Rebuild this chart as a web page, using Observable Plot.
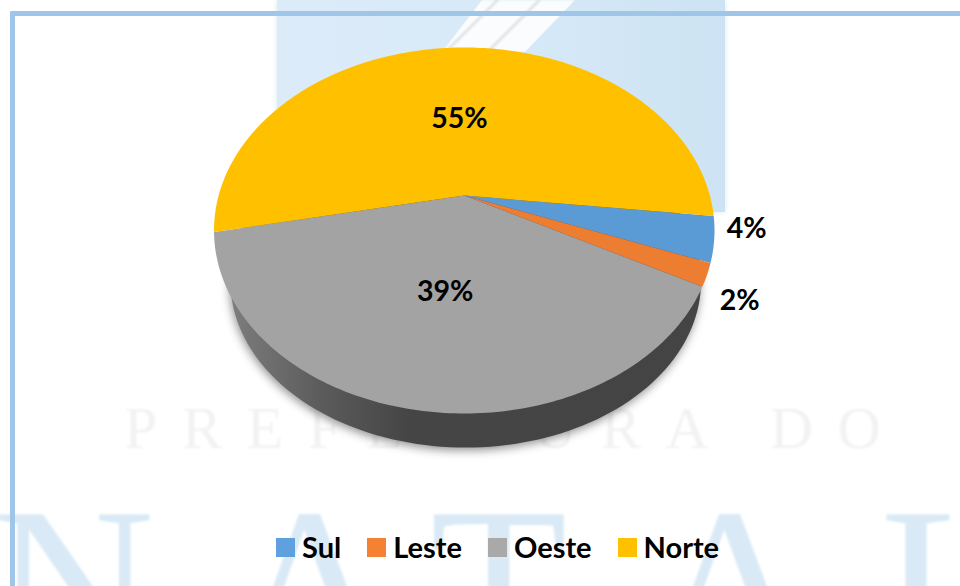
<!DOCTYPE html>
<html><head><meta charset="utf-8">
<script src="https://cdn.jsdelivr.net/npm/d3@7"></script>
<script src="https://cdn.jsdelivr.net/npm/@observablehq/plot@0.6"></script>
<style>
html,body{margin:0;padding:0;background:#fff;width:960px;height:586px;overflow:hidden;font-family:Lato,sans-serif}
#bg{position:absolute;left:0;top:0;width:960px;height:586px;overflow:hidden}
#bg div,#bg span{position:absolute;display:block}
.big{font-family:"Liberation Serif",serif;font-size:225px;line-height:225px;color:#d9eaf6;top:474px;filter:blur(1px)}
#chart{position:absolute;left:0;top:0}
#legend{position:absolute;left:276px;top:529px;display:flex;align-items:center;height:34px;font-weight:700;font-size:29px;color:#000}
#legend i{display:block;width:19px;height:19px;margin-right:7px;margin-top:2px}
#legend span{margin-right:26px;white-space:nowrap}
</style></head><body>
<div id="bg">
  <div style="left:277px;top:0;width:448px;height:212px;background:linear-gradient(90deg,#dcebf8,#d8eaf8 45%,#cde3f3);box-shadow:0 0 6px #dbe9f2"></div>
  <div style="left:430px;top:0;width:160px;height:52px;clip-path:polygon(12px 52px,52px 0,145px 0,95px 52px);filter:blur(.8px);background:repeating-linear-gradient(135deg,#fbfcfd 0 16px,#e2e3e4 16px 19px,#fbfcfd 19px 30px)"></div>
  <span style="left:124px;top:394px;font-family:'Liberation Serif',serif;font-size:60px;letter-spacing:24.6px;color:#f2f2f2;white-space:nowrap;filter:blur(1px)">PREFEITURA DO</span>
  <span class="big" style="left:-8px">N</span>
  <span class="big" style="left:230px">A</span>
  <span class="big" style="left:430px">T</span>
  <span class="big" style="left:650px">A</span>
  <span class="big" style="left:880px">L</span>
  <div style="left:9.5px;top:11px;width:960px;height:600px;border:solid #9fc5e8;border-width:5.5px 0 0 5.5px;border-top-left-radius:2px"></div>
</div>
<div id="chart"></div>
<div id="legend"></div>
<script>
const regions = ["Sul", "Leste", "Oeste", "Norte"];
const shares = [4, 2, 39, 55];
const sliceColors = ["#5b9bd5", "#ed7d31", "#a3a3a3", "#ffc000"];
const legendColors = ["#5fa1de", "#f58233", "#a9a9a9", "#ffc000"];

// tilted-disc geometry: a unit circle seen in perspective
const k = 0.191, s = Math.sqrt(1 - k * k), startDeg = -6.5;
const project = (r, deg) => {
  const u = r * Math.cos(deg * Math.PI / 180), v = r * Math.sin(deg * Math.PI / 180), w = 1 + k * v;
  return {x: s * u / w, y: (v + k) / w};
};
// slices run clockwise from the start angle
let cursor = startDeg;
const slices = regions.map((name, i) => {
  const a0 = cursor, a1 = cursor - shares[i] * 3.6;
  cursor = a1;
  return {name, share: shares[i], a0, a1, mid: (a0 + a1) / 2};
});
const facePoints = slices.flatMap(d => {
  const n = Math.ceil(Math.abs(d.a0 - d.a1));
  return [{...project(0, 0), name: d.name},
    ...d3.range(n + 1).map(j => ({...project(1, d.a0 + (d.a1 - d.a0) * j / n), name: d.name}))];
});
const wallPoints = d3.range(0, 361, 2).map(t => ({
  x: 0.006 + 0.94 * Math.cos(t * Math.PI / 180),
  y: -0.279 + 0.907 * Math.sin(t * Math.PI / 180)
}));
const label = (d, r) => ({...project(r, d.mid), text: d.share + "%", name: d.name});
const inside = slices.filter(d => d.share > 10).map(d => label(d, 0.49));
const outerA = slices.filter(d => d.name === "Sul").map(d => label(d, 1.127));
const outerB = slices.filter(d => d.name === "Leste").map(d => label(d, 1.145));

const defs = () => {
  const g = d3.create("svg:defs");
  const lg = g.append("linearGradient").attr("id", "wall");
  [[0, "#7d7d7d"], [0.2, "#5a5a5a"], [0.38, "#454545"], [1, "#444"]].forEach(([o, c]) =>
    lg.append("stop").attr("offset", o).attr("stop-color", c));
  return g.node();
};
const textOpts = {x: "x", y: "y", text: "text", fontFamily: "Lato", fontWeight: 700, fontSize: 28.5, fill: "#000"};

const chart = Plot.plot({
  width: 960, height: 525,
  margin: 0,
  style: {background: "transparent"},
  x: {domain: [-1, 1], range: [213.5, 714], axis: null},
  y: {domain: [-1, 1], range: [413, 47], axis: null},
  color: {domain: regions, range: sliceColors},
  marks: [
    defs,
    Plot.line(wallPoints, {x: "x", y: "y", fill: "url(#wall)", stroke: "none",
      imageFilter: "drop-shadow(-1px 3px 5px rgba(0,0,0,.42))"}),
    Plot.line(facePoints, {x: "x", y: "y", z: "name", fill: "name", stroke: "none"}),
    Plot.text(inside, {...textOpts, dy: 2}),
    Plot.text(outerA, {...textOpts, dy: -16, dx: -1}),
    Plot.text(outerB, {...textOpts, dy: 13, dx: -6})
  ]
});
document.getElementById("chart").append(chart);
const legend = d3.select("#legend");
regions.forEach((name, i) => {
  legend.append("i").style("background", legendColors[i]);
  legend.append("span").text(name);
});
</script>
</body></html>
